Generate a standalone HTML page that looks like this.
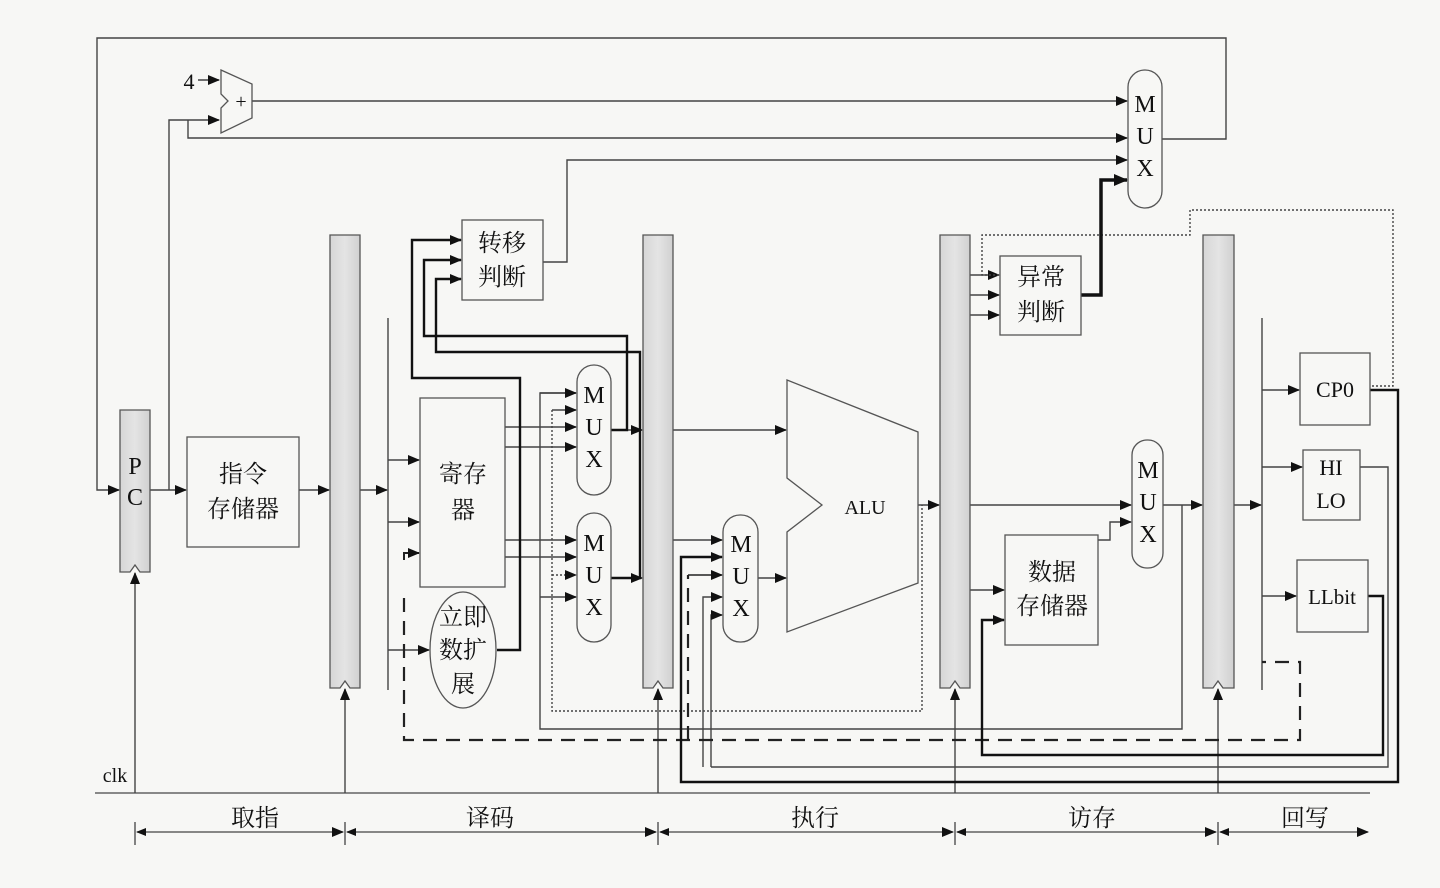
<!DOCTYPE html>
<html><head><meta charset="utf-8"><style>
html,body{margin:0;padding:0;background:#f7f7f5;}
svg{display:block;}
text{font-family:"Liberation Serif","Noto Serif CJK SC","Noto Sans CJK SC",serif;fill:#111;}
</style></head><body>
<svg width="1440" height="888" viewBox="0 0 1440 888" xmlns="http://www.w3.org/2000/svg">
<defs>
<marker id="a" markerWidth="12" markerHeight="10" refX="11" refY="5" orient="auto" markerUnits="userSpaceOnUse"><path d="M0,0 L12,5 L0,10 z" fill="#111"/></marker>
<marker id="ab" markerWidth="14" markerHeight="12" refX="13" refY="6" orient="auto" markerUnits="userSpaceOnUse"><path d="M0,0 L14,6 L0,12 z" fill="#111"/></marker>
<marker id="as" markerWidth="10" markerHeight="8" refX="1" refY="4" orient="auto" markerUnits="userSpaceOnUse"><path d="M10,0 L0,4 L10,8 z" fill="#111"/></marker>
<linearGradient id="g" x1="0" x2="1"><stop offset="0" stop-color="#d6d6d6"/><stop offset="0.5" stop-color="#e4e4e4"/><stop offset="1" stop-color="#d0d0d0"/></linearGradient>
</defs>
<g fill="none" stroke="#444" stroke-width="1.4">
<polyline points="1162,139 1226,139 1226,38 97,38 97,490 119,490" marker-end="url(#a)"/>
<line x1="150" y1="490" x2="186" y2="490" marker-end="url(#a)"/>
<polyline points="169,490 169,120 219,120" marker-end="url(#a)"/>
<polyline points="188,120 188,138 1127,138" marker-end="url(#a)"/>
<line x1="198" y1="80" x2="219" y2="80" marker-end="url(#a)"/>
<line x1="252" y1="101" x2="1127" y2="101" marker-end="url(#a)"/>
<polyline points="543,262 567,262 567,160 1127,160" marker-end="url(#a)"/>
<line x1="299" y1="490" x2="329" y2="490" marker-end="url(#a)"/>
<line x1="360" y1="490" x2="387" y2="490" marker-end="url(#a)"/>
<line x1="388" y1="318" x2="388" y2="690"/>
<line x1="388" y1="460" x2="419" y2="460" marker-end="url(#a)"/>
<line x1="388" y1="522" x2="419" y2="522" marker-end="url(#a)"/>
<line x1="388" y1="650" x2="429" y2="650" marker-end="url(#a)"/>
<line x1="505" y1="427" x2="576" y2="427" marker-end="url(#a)"/>
<line x1="505" y1="447" x2="576" y2="447" marker-end="url(#a)"/>
<line x1="505" y1="540" x2="576" y2="540" marker-end="url(#a)"/>
<line x1="505" y1="557" x2="576" y2="557" marker-end="url(#a)"/>
<polyline points="576,393 540,393 540,729 1182,729 1182,505"/>
<line x1="540" y1="597" x2="576" y2="597" marker-end="url(#a)"/>
<line x1="540" y1="393" x2="576" y2="393" marker-end="url(#a)"/>
<polyline points="576,410 552,410 552,711 922,711 922,505" stroke-dasharray="2,2"/>
<line x1="552" y1="410" x2="576" y2="410" marker-end="url(#a)" stroke-dasharray="2,2"/>
<line x1="552" y1="575" x2="576" y2="575" marker-end="url(#a)" stroke-dasharray="2,2"/>
<line x1="611" y1="430" x2="642" y2="430" marker-end="url(#a)"/>
<line x1="611" y1="578" x2="642" y2="578" marker-end="url(#a)"/>
<line x1="673" y1="430" x2="786" y2="430" marker-end="url(#a)"/>
<line x1="673" y1="540" x2="722" y2="540" marker-end="url(#a)"/>
<line x1="758" y1="578" x2="786" y2="578" marker-end="url(#a)"/>
<line x1="918" y1="505" x2="939" y2="505" marker-end="url(#a)"/>
<polyline points="703,767 703,597 722,597" marker-end="url(#a)"/>
<polyline points="711,767 711,615 722,615" marker-end="url(#a)"/>
<line x1="970" y1="275" x2="999" y2="275" marker-end="url(#a)"/>
<line x1="970" y1="295" x2="999" y2="295" marker-end="url(#a)"/>
<line x1="970" y1="315" x2="999" y2="315" marker-end="url(#a)"/>
<polyline points="999,275 982,275 982,235 1190,235 1190,210 1393,210 1393,386 1370,386" stroke-dasharray="2,2"/>
<line x1="970" y1="505" x2="1131" y2="505" marker-end="url(#a)"/>
<line x1="970" y1="590" x2="1004" y2="590" marker-end="url(#a)"/>
<polyline points="1098,540 1110,540 1110,522 1131,522" marker-end="url(#a)"/>
<line x1="1163" y1="505" x2="1202" y2="505" marker-end="url(#a)"/>
<line x1="1234" y1="505" x2="1261" y2="505" marker-end="url(#a)"/>
<line x1="1262" y1="318" x2="1262" y2="690"/>
<line x1="1262" y1="390" x2="1299" y2="390" marker-end="url(#a)"/>
<line x1="1262" y1="467" x2="1302" y2="467" marker-end="url(#a)"/>
<line x1="1262" y1="596" x2="1296" y2="596" marker-end="url(#a)"/>
<polyline points="1360,467 1388,467 1388,767 711,767"/>
<line x1="95" y1="793" x2="1370" y2="793" stroke="#888" stroke-width="2"/>
<line x1="135" y1="793" x2="135" y2="573" marker-end="url(#a)"/>
<line x1="345" y1="793" x2="345" y2="689" marker-end="url(#a)"/>
<line x1="658" y1="793" x2="658" y2="689" marker-end="url(#a)"/>
<line x1="955" y1="793" x2="955" y2="689" marker-end="url(#a)"/>
<line x1="1218" y1="793" x2="1218" y2="689" marker-end="url(#a)"/>
<g stroke="#444" stroke-width="1.3">
<line x1="137" y1="832" x2="343" y2="832" marker-start="url(#as)" marker-end="url(#a)"/>
<line x1="347" y1="832" x2="656" y2="832" marker-start="url(#as)" marker-end="url(#a)"/>
<line x1="660" y1="832" x2="953" y2="832" marker-start="url(#as)" marker-end="url(#a)"/>
<line x1="957" y1="832" x2="1216" y2="832" marker-start="url(#as)" marker-end="url(#a)"/>
<line x1="1220" y1="832" x2="1368" y2="832" marker-start="url(#as)" marker-end="url(#a)"/>
<line x1="135" y1="822" x2="135" y2="845"/><line x1="345" y1="822" x2="345" y2="845"/><line x1="658" y1="822" x2="658" y2="845"/><line x1="955" y1="822" x2="955" y2="845"/><line x1="1218" y1="822" x2="1218" y2="845"/>
</g>
</g>
<g fill="none" stroke="#222" stroke-width="2.2" stroke-dasharray="14,9">
<polyline points="404,598 404,740 1300,740 1300,662 1262,662"/>
<polyline points="688,740 688,575"/>
</g>
<polyline points="404,560 404,553 419,553" fill="none" stroke="#222" stroke-width="2" marker-end="url(#a)"/>
<line x1="688" y1="575" x2="722" y2="575" stroke="#222" stroke-width="1.5" marker-end="url(#a)"/>
<g fill="none" stroke="#111" stroke-width="2.4">
<polyline points="497,650 520,650 520,378 412,378 412,240 461,240" marker-end="url(#a)"/>
<polyline points="611,430 627,430 627,336 424,336 424,260 461,260" marker-end="url(#a)"/>
<polyline points="611,578 640,578 640,352 436,352 436,279 461,279" marker-end="url(#a)"/>
<polyline points="1370,390 1398,390 1398,782 681,782 681,557 722,557" marker-end="url(#a)"/>
<polyline points="1368,596 1383,596 1383,755 982,755 982,620 1004,620" marker-end="url(#a)"/>
<polyline points="1081,295 1101,295 1101,180 1127,180" stroke-width="3.5" marker-end="url(#ab)"/>
</g>
<g stroke="#555" stroke-width="1.3" fill="url(#g)">
<path d="M120,410 H150 V572 H140 L135,565 L130,572 H120 Z"/>
<path d="M330,235 H360 V688 H350 L345,681 L340,688 H330 Z"/>
<path d="M643,235 H673 V688 H663 L658,681 L653,688 H643 Z"/>
<path d="M940,235 H970 V688 H960 L955,681 L950,688 H940 Z"/>
<path d="M1203,235 H1234 V688 H1223 L1218,681 L1213,688 H1203 Z"/>
</g>
<g stroke="#555" stroke-width="1.3" fill="#f7f7f5">
<path d="M221,70 L252,84 L252,118 L221,133 L221,108 L228,101 L221,94 Z"/>
<rect x="187" y="437" width="112" height="110"/>
<rect x="462" y="220" width="81" height="80"/>
<rect x="420" y="398" width="85" height="189"/>
<ellipse cx="463" cy="650" rx="33" ry="58"/>
<rect x="577" y="365" width="34" height="130" rx="17"/>
<rect x="577" y="513" width="34" height="129" rx="17"/>
<rect x="723" y="515" width="35" height="127" rx="17"/>
<path d="M787,380 L918,432 L918,583 L787,632 L787,532 L822,505 L787,478 Z"/>
<rect x="1000" y="256" width="81" height="79"/>
<rect x="1005" y="535" width="93" height="110"/>
<rect x="1132" y="440" width="31" height="128" rx="15"/>
<rect x="1128" y="70" width="34" height="138" rx="17"/>
<rect x="1300" y="353" width="70" height="72"/>
<rect x="1303" y="450" width="57" height="70"/>
<rect x="1297" y="560" width="71" height="72"/>
</g>
<g font-size="24" text-anchor="middle">
<text x="189" y="89" font-size="22">4</text>
<text x="241" y="108" font-size="20">+</text>
<text x="135" y="474">P</text><text x="135" y="505">C</text>
<text x="243" y="482">指令</text><text x="243" y="517">存储器</text>
<text x="502" y="251">转移</text><text x="502" y="285">判断</text>
<text x="463" y="482">寄存</text><text x="463" y="518">器</text>
<text x="463" y="625">立即</text><text x="463" y="658">数扩</text><text x="463" y="692">展</text>
<text x="594" y="403">M</text><text x="594" y="435">U</text><text x="594" y="467">X</text>
<text x="594" y="551">M</text><text x="594" y="583">U</text><text x="594" y="615">X</text>
<text x="741" y="552">M</text><text x="741" y="584">U</text><text x="741" y="616">X</text>
<text x="1145" y="112">M</text><text x="1145" y="144">U</text><text x="1145" y="176">X</text>
<text x="1148" y="478">M</text><text x="1148" y="510">U</text><text x="1148" y="542">X</text>
<text x="865" y="514" font-size="20">ALU</text>
<text x="1041" y="285">异常</text><text x="1041" y="320">判断</text>
<text x="1052" y="580">数据</text><text x="1052" y="614">存储器</text>
<text x="1335" y="397" font-size="22">CP0</text>
<text x="1331" y="475" font-size="22">HI</text><text x="1331" y="508" font-size="22">LO</text>
<text x="1332" y="604" font-size="21">LLbit</text>
<text x="115" y="782" font-size="20">clk</text>
<text x="255" y="826">取指</text>
<text x="490" y="826">译码</text>
<text x="815" y="826">执行</text>
<text x="1092" y="826">访存</text>
<text x="1305" y="826">回写</text>
</g>
</svg>
</body></html>
